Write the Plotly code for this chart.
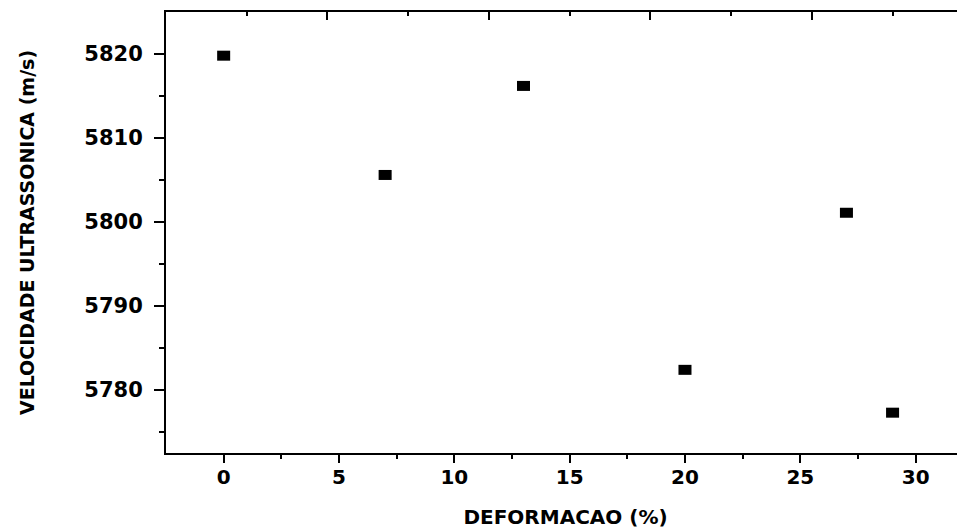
import plotly.graph_objects as go

# Data
deformacao = [0, 7, 13, 20, 27, 29]
velocidade = [5819.8, 5805.6, 5816.2, 5782.4, 5801.1, 5777.3]

x_ticks = [0, 5, 10, 15, 20, 25, 30]
y_ticks = [5780, 5790, 5800, 5810, 5820]
x_range = [-2.5, 32.14]
y_range = [5772.5, 5825.0]

# Frame ticks of the (cropped) top and right axes
top_major = [-2.5, 4.5, 11.5, 18.5, 25.5]
top_minor = [1, 8, 15, 22, 29]
right_ticks = [5783, 5793.5, 5804, 5814.5]

FONT = "DejaVu Sans"

fig = go.Figure()
fig.add_trace(go.Scatter(
    x=deformacao, y=velocidade, mode="markers",
    marker=dict(symbol="line-ew", size=9.3, color="black",
                line=dict(color="black", width=10)),
    showlegend=False, hoverinfo="x+y",
))
# invisible traces to activate the frame axes
fig.add_trace(go.Scatter(x=[None], y=[None], xaxis="x2", yaxis="y", showlegend=False))
fig.add_trace(go.Scatter(x=[None], y=[None], xaxis="x", yaxis="y2", showlegend=False))

fig.update_layout(
    width=957, height=521,
    margin=dict(l=158, r=0, t=4, b=76),
    paper_bgcolor="white", plot_bgcolor="white",
    font=dict(family=FONT, color="black"),
    xaxis=dict(
        range=x_range, tickvals=x_ticks, ticktext=[str(v) for v in x_ticks],
        showgrid=False, zeroline=False,
        showline=True, linecolor="black", linewidth=2,
        ticks="outside", ticklen=8, tickwidth=2, tickcolor="black",
        minor=dict(tickvals=[2.5, 7.5, 12.5, 17.5, 22.5, 27.5], ticks="outside",
                   ticklen=4, tickwidth=2, tickcolor="black", showgrid=False),
        tickfont=dict(family=FONT, size=20, weight="bold", color="black"),
        ticklabelstandoff=-3,
        title=dict(text="DEFORMACAO (%)", standoff=22,
                   font=dict(family=FONT, size=20, weight="bold", color="black")),
    ),
    yaxis=dict(
        range=y_range, tickvals=y_ticks, ticktext=[str(v) for v in y_ticks],
        showgrid=False, zeroline=False,
        showline=True, linecolor="black", linewidth=2,
        ticks="outside", ticklen=10, tickwidth=2, tickcolor="black",
        minor=dict(tickvals=[5775, 5785, 5795, 5805, 5815], ticks="outside",
                   ticklen=5, tickwidth=2, tickcolor="black", showgrid=False),
        tickfont=dict(family=FONT, size=21, weight="bold", color="black"),
        ticklabelstandoff=7,
        title=dict(text="VELOCIDADE ULTRASSONICA (m/s)", standoff=45,
                   font=dict(family=FONT, size=19, weight="bold", color="black")),
    ),
    xaxis2=dict(
        range=x_range, overlaying="x", side="top", anchor="y",
        tickvals=top_major, showticklabels=False,
        showgrid=False, zeroline=False,
        showline=True, linecolor="black", linewidth=2,
        ticks="inside", ticklen=8, tickwidth=2, tickcolor="black",
        minor=dict(tickvals=top_minor, ticks="inside", ticklen=4,
                   tickwidth=2, tickcolor="black", showgrid=False),
    ),
    yaxis2=dict(
        range=y_range, overlaying="y", side="right", anchor="x",
        tickvals=right_ticks, showticklabels=False,
        showgrid=False, zeroline=False, showline=False,
        ticks="inside", ticklen=4, tickwidth=2, tickcolor="black",
    ),
)

fig.write_html("out.html")
